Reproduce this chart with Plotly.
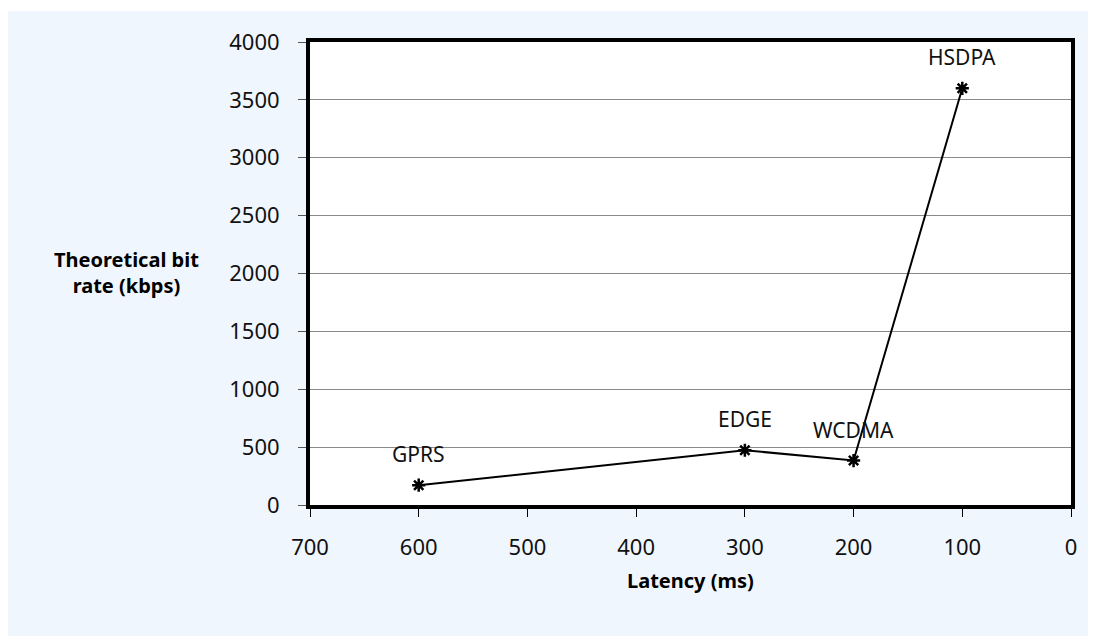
import plotly.graph_objects as go

technologies = ["GPRS", "EDGE", "WCDMA", "HSDPA"]
latency_ms = [600, 300, 200, 100]
bit_rate_kbps = [171, 473, 384, 3600]

x_ticks = [700, 600, 500, 400, 300, 200, 100, 0]
y_ticks = [0, 500, 1000, 1500, 2000, 2500, 3000, 3500, 4000]

FONT = "Noto Sans"

fig = go.Figure()
fig.add_trace(go.Scatter(
    x=latency_ms, y=bit_rate_kbps, mode="lines+markers",
    line=dict(color="black", width=2),
    marker=dict(symbol="asterisk-open", size=11, color="black",
                line=dict(color="black", width=2.5)),
    showlegend=False, hoverinfo="skip",
))

for name, xv, yv in zip(technologies, latency_ms, bit_rate_kbps):
    fig.add_annotation(x=xv, y=yv, text=name, showarrow=False,
                       yshift=31, font=dict(family=FONT, size=21, color="#111"))

fig.add_annotation(xref="paper", yref="paper", x=-0.2405, y=0.503,
                   xanchor="center", yanchor="middle",
                   text="<b>Theoretical bit<br>rate (kbps)</b>", showarrow=False,
                   align="center", font=dict(family=FONT, size=20, color="black"))
fig.add_annotation(xref="paper", yref="paper", x=0.5, y=-0.162,
                   xanchor="center", yanchor="middle",
                   text="<b>Latency (ms)</b>", showarrow=False,
                   font=dict(family=FONT, size=20, color="black"))

# thin white strip at the top edge of the page
fig.add_shape(type="rect", xref="paper", yref="paper", layer="below",
              x0=-0.45, x1=1.1, y0=1.0667, y1=1.10,
              fillcolor="white", line=dict(width=0))

fig.update_xaxes(
    range=[700, 0], tickvals=x_ticks, ticks="outside", ticklen=8,
    tickcolor="black", tickwidth=1, showgrid=False, zeroline=False,
    showline=True, linecolor="black", linewidth=4, mirror=True,
    tickfont=dict(family=FONT, size=22, color="#111"), ticklabelstandoff=12,
)
fig.update_yaxes(
    range=[0, 4000], tickvals=y_ticks, ticks="outside", ticklen=8,
    tickcolor="#555", tickwidth=1, showgrid=True, gridcolor="#8a8a8a",
    gridwidth=1, zeroline=False,
    showline=True, linecolor="black", linewidth=4, mirror=True,
    tickfont=dict(family=FONT, size=22, color="#111"), ticklabelstandoff=14,
)

fig.update_layout(
    width=1088, height=628,
    margin=dict(l=302, r=25, t=34, b=131),
    paper_bgcolor="#F0F6FD", plot_bgcolor="white",
)

fig.write_html("out.html")
